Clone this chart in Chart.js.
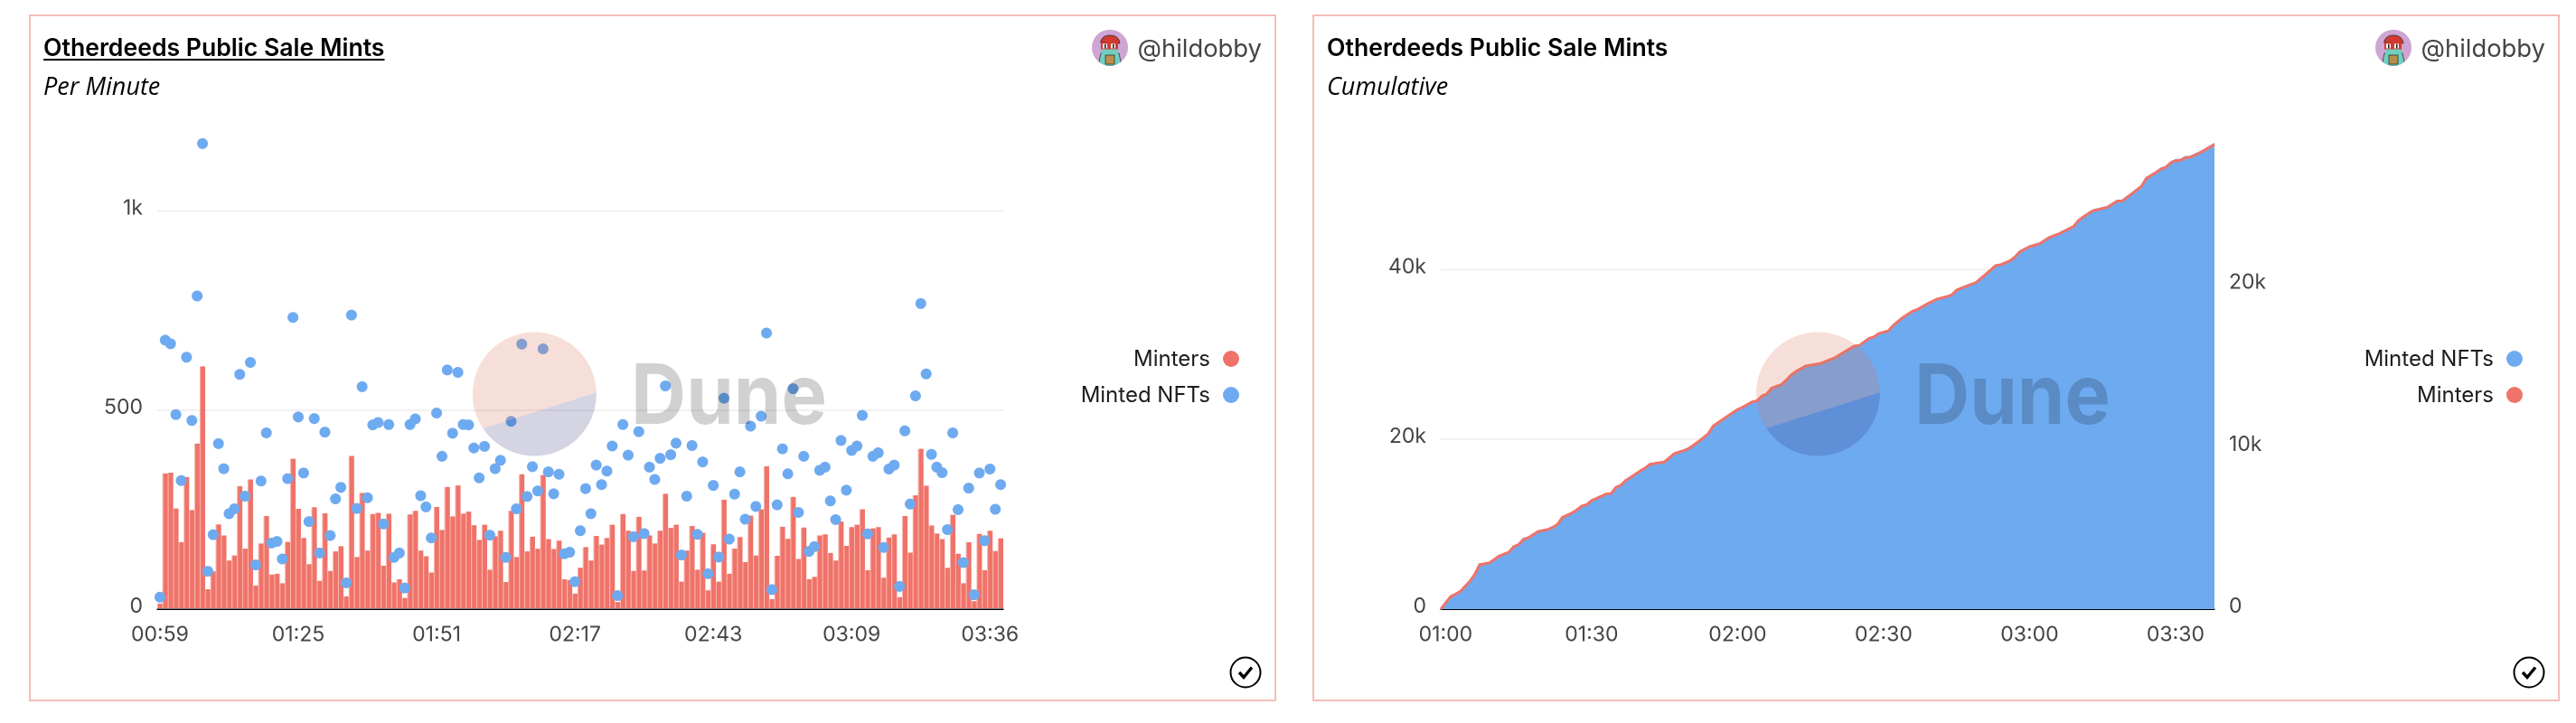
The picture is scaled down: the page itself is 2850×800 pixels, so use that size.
<!DOCTYPE html>
<html>
<head>
<meta charset="utf-8">
<title>Otherdeeds Public Sale Mints</title>
<script src="https://cdn.jsdelivr.net/npm/chart.js@4"></script>
<style>
  html, body { margin: 0; background: #fff; }
  body { width: 2850px; height: 800px; position: relative; overflow: hidden; font-family: Inter, sans-serif; }
  .card { position: absolute; top: 16px; width: 1380px; height: 760px; box-shadow: inset 0 0 0 2px #f5bdb8; }
  .card canvas { position: absolute; left: 0; top: 0; }
  .card svg { position: absolute; left: 0; top: 0; pointer-events: none; }
  .title { position: absolute; left: 16px; top: 20px; font-size: 26.6px; font-weight: 600; color: #000; white-space: nowrap; }
  .title.link { text-decoration: underline; text-decoration-thickness: 2px; text-underline-offset: 3px; }
  .sub { position: absolute; left: 16px; top: 60px; font-size: 27px; font-style: italic; color: #000; white-space: nowrap; font-family: "Open Sans", sans-serif; }
  .author { position: absolute; right: 16px; top: 20px; font-size: 27.4px; color: #444; white-space: nowrap; }
  .legend { position: absolute; right: 41px; top: 364px; text-align: right; font-size: 24px; color: #1c1c1c; }
  .legend div { height: 39.5px; line-height: 34px; white-space: nowrap; position: relative; padding-right: 32px; }
  .legend i { position: absolute; right: 0; top: 8px; width: 18px; height: 18px; border-radius: 50%; }
</style>
</head>
<body>
<script>
const BLUE = '#6eaaf0';
const RED = '#ef7369';
const INK = '#444444';
const TICK_FONT = { family: 'Inter, sans-serif', size: 23 };

// Per Minute panel
const perMinuteTicks = ['00:59', '01:25', '01:51', '02:17', '02:43', '03:09', '03:36'];
const perMinuteYTicks = [0, 500, 1000];
const minters = [
  14, 341, 343, 253, 168, 332, 249, 416, 610, 50,
  95, 213, 185, 122, 135, 309, 152, 326, 59, 165,
  234, 87, 89, 65, 169, 378, 252, 179, 113, 256,
  71, 241, 96, 145, 158, 32, 385, 131, 292, 147,
  239, 242, 109, 240, 67, 75, 28, 238, 247, 147,
  133, 92, 257, 199, 307, 233, 311, 240, 245, 211,
  174, 212, 99, 183, 197, 68, 247, 131, 339, 145,
  182, 152, 337, 176, 151, 172, 75, 73, 39, 104,
  156, 122, 184, 162, 179, 212, 18, 239, 197, 96,
  232, 97, 185, 165, 197, 290, 204, 212, 69, 147,
  209, 99, 192, 47, 163, 69, 275, 89, 152, 181,
  118, 235, 135, 251, 359, 25, 134, 207, 177, 282,
  126, 205, 75, 81, 185, 188, 141, 122, 220, 159,
  206, 212, 251, 98, 203, 206, 79, 180, 188, 30,
  234, 142, 286, 403, 310, 210, 190, 176, 104, 237,
  139, 65, 168, 20, 189, 98, 197, 146, 178
];
const mintedNfts = [
  30, 676, 667, 489, 323, 633, 474, 787, 1170, 95,
  187, 416, 353, 240, 252, 590, 284, 620, 111, 322,
  443, 166, 170, 126, 328, 733, 483, 342, 220, 479,
  141, 445, 185, 277, 306, 66, 739, 253, 559, 280,
  463, 469, 214, 464, 130, 141, 53, 464, 478, 285,
  257, 179, 493, 384, 601, 442, 595, 464, 463, 405,
  330, 409, 186, 353, 374, 130, 472, 252, 666, 283,
  358, 297, 654, 345, 290, 339, 139, 143, 69, 197,
  303, 240, 362, 313, 347, 410, 34, 464, 387, 182,
  446, 190, 357, 326, 379, 561, 388, 417, 136, 284,
  411, 188, 370, 89, 311, 131, 530, 176, 289, 345,
  226, 460, 258, 485, 694, 49, 262, 403, 340, 554,
  243, 384, 145, 157, 349, 357, 272, 225, 424, 299,
  399, 410, 487, 189, 384, 393, 155, 352, 362, 57,
  448, 264, 536, 768, 591, 389, 357, 343, 200, 443,
  250, 117, 304, 36, 342, 172, 352, 251, 313
];
// every 26th bar carries a tick label
const perMinuteLabels = minters.map((v, i) => (i % 26 === 0 ? perMinuteTicks[i / 26] : ''));

// Cumulative panel: minutes after midnight, read where the curve bends
const cumMinutes = [
  59, 61, 63, 65, 66, 67, 69, 71, 73, 74, 75, 76, 77, 79, 81, 82, 83, 84, 86, 87,
  88, 89, 90, 91, 93, 94, 95, 96, 97, 98, 100, 101, 102, 105, 107, 109, 110, 112, 114, 115,
  118, 120, 121, 123, 124, 125, 126, 127, 129, 130, 131, 132, 134, 137, 140, 142, 144, 145, 147, 148,
  149, 151, 152, 154, 156, 157, 159, 161, 163, 164, 165, 166, 169, 170, 171, 172, 173, 174, 176, 177,
  178, 180, 182, 184, 186, 189, 190, 191, 193, 196, 198, 199, 201, 203, 204, 206, 207, 208, 209, 210,
  211, 212, 213, 215, 218
];
const cumMinted = [
  0, 1467, 2078, 3301, 4116, 5257, 5461, 6276, 6724, 7376, 7620, 8272, 8435, 9169, 9413, 9658, 10025, 10840, 11369, 11736,
  12184, 12347, 12836, 13081, 13611, 13651, 14385, 14629, 15200, 15567, 16341, 16667, 17115, 17400, 18378, 18745, 18990, 19805, 20742, 21638,
  22820, 23594, 23839, 24491, 24613, 25184, 25428, 26121, 26528, 27058, 27669, 28077, 28729, 29014, 29707, 30400, 31092, 31133, 31989, 32152,
  32559, 32885, 33537, 34475, 35208, 35412, 36064, 36634, 36920, 37123, 37694, 37938, 38590, 39079, 39568, 40057, 40587, 40669, 41158, 41606,
  42217, 42828, 43154, 43888, 44336, 45192, 45885, 46333, 47066, 47474, 48207, 48207, 49063, 49960, 50897, 51590, 51997, 52201, 52731, 52975,
  53016, 53342, 53383, 53912, 54890
];
const cumMinters = [
  0, 767, 1086, 1725, 2151, 2748, 2854, 3280, 3515, 3855, 3983, 4324, 4409, 4793, 4920, 5048, 5240, 5666, 5943, 6134,
  6369, 6454, 6710, 6837, 7114, 7136, 7519, 7647, 7945, 8137, 8541, 8712, 8946, 9095, 9606, 9798, 9926, 10352, 10842, 11310,
  11928, 12333, 12461, 12801, 12865, 13163, 13291, 13653, 13866, 14143, 14463, 14676, 15017, 15166, 15528, 15890, 16252, 16273, 16721, 16806,
  17019, 17189, 17530, 18020, 18403, 18510, 18851, 19149, 19298, 19404, 19703, 19830, 20171, 20427, 20682, 20938, 21215, 21257, 21513, 21747,
  22067, 22386, 22557, 22940, 23174, 23622, 23984, 24218, 24602, 24815, 25198, 25198, 25645, 26114, 26604, 26966, 27179, 27285, 27562, 27690,
  27711, 27882, 27903, 28180, 28691
];
const cumTicks = [60, 90, 120, 150, 180, 210];
const cumLeftTicks = [0, 20000, 40000];
const cumRightTicks = [0, 10000, 20000];

const kFormat = v => (v >= 1000 ? (v / 1000) + 'k' : String(v));
const clockFormat = m => String(Math.floor(m / 60)).padStart(2, '0') + ':' + String(m % 60).padStart(2, '0');
const useTicks = list => s => { s.ticks = list.map(v => ({ value: v })); };

function makeCard(left, opts) {
  const card = document.createElement('div');
  card.className = 'card';
  card.style.left = left + 'px';
  card.innerHTML = `
    <canvas width="1380" height="760" style="width:1380px;height:760px"></canvas>
    <svg width="1380" height="760" viewBox="0 0 1380 760">
      <defs><clipPath id="disc${left}"><circle cx="559.3" cy="420" r="68.5"/></clipPath></defs>
      <g clip-path="url(#disc${left})">
        <polygon points="480,465.2 640,414.5 640,340 480,340" fill="rgb(219,114,88)" fill-opacity="0.228"/>
        <polygon points="480,465.2 640,414.5 640,500 480,500" fill="rgb(32,32,110)" fill-opacity="0.193"/>
      </g>
      <text x="666" y="453" font-family="Inter, sans-serif" font-size="92" font-weight="700" fill="#000" fill-opacity="0.18" textLength="217" lengthAdjust="spacingAndGlyphs">Dune</text>
      <circle cx="1346" cy="728" r="16.5" fill="none" stroke="#000" stroke-width="2"/>
      <path d="M1339 728 L1344 733.5 L1353 722.5" fill="none" stroke="#000" stroke-width="3.4"/>
      <clipPath id="face${left}"><circle cx="1196" cy="36.7" r="20"/></clipPath>
      <g clip-path="url(#face${left})">
        <rect x="1176" y="16" width="40" height="41" fill="#cfa5d3"/>
        <path d="M1183 57 L1186 43 L1206 43 L1209 57 Z" fill="#6fd0c0" stroke="#333" stroke-width="0.8"/>
        <rect x="1187" y="38" width="18" height="6" fill="#6fd0c0"/>
        <rect x="1191" y="45" width="10" height="10" fill="#b98f4a" stroke="#333" stroke-width="0.8"/>
        <path d="M1185.5 31 Q1187 23 1196 23 Q1206 23 1207 32 Z" fill="#d23a30" stroke="#333" stroke-width="0.8"/>
        <rect x="1186" y="31" width="19" height="7.5" fill="#d23a30"/>
        <rect x="1188" y="32.5" width="5" height="5" fill="#fff"/>
        <rect x="1197" y="32.5" width="5" height="5" fill="#fff"/>
        <rect x="1190" y="33" width="1.6" height="4.5" fill="#222"/>
        <rect x="1199" y="33" width="1.6" height="4.5" fill="#222"/>
      </g>
    </svg>
    <div class="title${opts.underline ? ' link' : ''}">Otherdeeds Public Sale Mints</div>
    <div class="sub">${opts.subtitle}</div>
    <div class="author">@hildobby</div>
    <div class="legend">${opts.legend.map(l => `<div>${l[0]}<i style="background:${l[1]}"></i></div>`).join('')}</div>`;
  document.body.appendChild(card);
  return card.querySelector('canvas').getContext('2d');
}

const baseX = {
  border: { color: '#000', width: 1.5 },
  grid: { display: false, drawTicks: false }
};
const yGrid = { color: '#f1f1f1', lineWidth: 2, drawTicks: false };

new Chart(makeCard(32, {
  underline: true,
  subtitle: 'Per Minute',
  legend: [['Minters', RED], ['Minted NFTs', BLUE]]
}), {
  data: {
    labels: perMinuteLabels,
    datasets: [
      { type: 'line', label: 'Minted NFTs', data: mintedNfts, showLine: false, clip: false, pointRadius: 6, pointBackgroundColor: BLUE, pointBorderWidth: 0, order: 1 },
      // the slivers between reference bars are pale pink, not white
      { type: 'bar', label: 'Minters', data: minters, backgroundColor: RED, borderColor: '#f9b4ae', borderWidth: { left: 1.2, right: 0, top: 0, bottom: 0 }, borderSkipped: false, categoryPercentage: 1, barPercentage: 1, order: 2 }
    ]
  },
  options: {
    responsive: false,
    animation: false,
    devicePixelRatio: 2,
    layout: { padding: { left: 82, right: 302, top: 142, bottom: 52 } },
    plugins: { legend: { display: false }, tooltip: { enabled: false } },
    scales: {
      x: {
        ...baseX,
        afterFit: s => { s.height = 50; },
        ticks: { autoSkip: false, maxRotation: 0, minRotation: 0, padding: 15, color: INK, font: TICK_FONT }
      },
      y: {
        min: 0,
        max: 1172,
        border: { display: false },
        grid: yGrid,
        afterFit: s => { s.width = 60; },
        afterBuildTicks: useTicks(perMinuteYTicks),
        ticks: { padding: 16, labelOffset: -3, color: INK, font: TICK_FONT, callback: kFormat }
      }
    }
  }
});

new Chart(makeCard(1452, {
  underline: false,
  subtitle: 'Cumulative',
  legend: [['Minted NFTs', BLUE], ['Minters', RED]]
}), {
  type: 'line',
  data: {
    datasets: [
      { label: 'Minters', data: cumMinutes.map((m, i) => ({ x: m, y: cumMinters[i] })), yAxisID: 'yRight', borderColor: RED, borderWidth: 3, pointRadius: 0, clip: false, fill: false, order: 1 },
      { label: 'Minted NFTs', data: cumMinutes.map((m, i) => ({ x: m, y: cumMinted[i] })), yAxisID: 'yLeft', borderColor: BLUE, borderWidth: 1, pointRadius: 0, fill: 'origin', backgroundColor: BLUE, order: 2 }
    ]
  },
  options: {
    responsive: false,
    animation: false,
    devicePixelRatio: 2,
    layout: { padding: { left: 82, right: 322, top: 142, bottom: 52 } },
    plugins: { legend: { display: false }, tooltip: { enabled: false } },
    scales: {
      x: {
        ...baseX,
        type: 'linear',
        min: 59,
        max: 218,
        afterFit: s => { s.height = 50; },
        afterBuildTicks: useTicks(cumTicks),
        ticks: { autoSkip: false, maxRotation: 0, minRotation: 0, padding: 15, color: INK, font: TICK_FONT, callback: clockFormat }
      },
      yLeft: {
        position: 'left',
        min: 0,
        max: 54950,
        border: { display: false },
        grid: yGrid,
        afterFit: s => { s.width = 60; },
        afterBuildTicks: useTicks(cumLeftTicks),
        ticks: { padding: 16, labelOffset: -3, color: INK, font: TICK_FONT, callback: kFormat }
      },
      yRight: {
        position: 'right',
        min: 0,
        max: 28800,
        border: { display: false },
        grid: { display: false, drawTicks: false },
        afterFit: s => { s.width = 60; },
        afterBuildTicks: useTicks(cumRightTicks),
        ticks: { padding: 16, labelOffset: -3, color: INK, font: TICK_FONT, callback: kFormat }
      }
    }
  }
});
</script>
</body>
</html>
